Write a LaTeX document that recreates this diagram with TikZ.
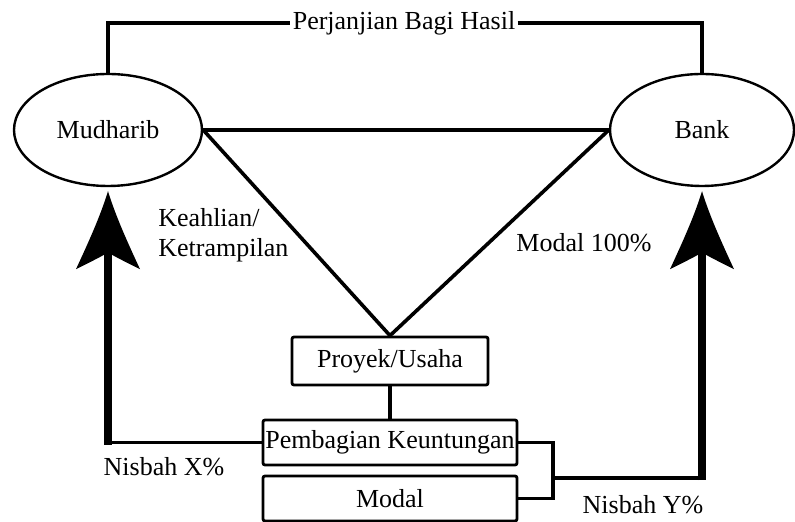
\documentclass[tikz,border=0pt]{standalone}
\usepackage{fontspec}
\setmainfont{Liberation Serif}
\usepackage{tikz}
\usetikzlibrary{arrows.meta,positioning,calc,shapes.geometric}
% spear-like tip with hollowed sides
\pgfdeclarearrow{
  name=Spear,
  setup code={
    \pgfarrowssettipend{0pt}
    \pgfarrowssetlineend{-30pt}
    \pgfarrowssetvisualbackend{-39pt}
    \pgfarrowssetbackend{-39pt}
    \pgfarrowshullpoint{0pt}{0pt}
    \pgfarrowshullpoint{-39pt}{16pt}
    \pgfarrowshullpoint{-39pt}{-16pt}
  },
  drawing code={
    \pgfpathmoveto{\pgfqpoint{0pt}{0pt}}
    \pgfpathcurveto{\pgfqpoint{-13pt}{4pt}}{\pgfqpoint{-26pt}{10pt}}{\pgfqpoint{-39pt}{16pt}}
    \pgfpathcurveto{\pgfqpoint{-36pt}{10pt}}{\pgfqpoint{-33pt}{4pt}}{\pgfqpoint{-31.5pt}{1.5pt}}
    \pgfpathlineto{\pgfqpoint{-31.5pt}{-1.5pt}}
    \pgfpathcurveto{\pgfqpoint{-33pt}{-4pt}}{\pgfqpoint{-36pt}{-10pt}}{\pgfqpoint{-39pt}{-16pt}}
    \pgfpathcurveto{\pgfqpoint{-26pt}{-10pt}}{\pgfqpoint{-13pt}{-4pt}}{\pgfqpoint{0pt}{0pt}}
    \pgfpathclose
    \pgfusepathqfill
  }
}
\tikzset{
  party/.style={draw,ellipse,line width=1.2pt,minimum width=94pt,minimum height=56pt,
                inner sep=0pt},
  box/.style={draw,rectangle,rounded corners=1pt,line width=1.4pt,inner sep=1pt},
  lbl/.style={inner sep=0pt},
  link/.style={-,line width=1.8pt},
  share/.style={-Spear,line width=4pt},
}
\begin{document}
\begin{tikzpicture}[x=0.5pt,y=-0.5pt,font=\fontsize{13}{15}\selectfont]
  \useasboundingbox (0,0) rectangle (795,522);
  \node[party] (mud)  at (108,130) {Mudharib};
  \node[party,minimum width=92pt] (bank) at (702,130) {Bank};
  \node[box,minimum width=98pt,minimum height=24pt]   (proy)  at (390,361)   {Proyek/Usaha};
  \node[box,minimum width=127pt,minimum height=22.5pt] (pemb) at (390,442.5) {Pembagian Keuntungan};
  \node[box,minimum width=127pt,minimum height=22.5pt] (modal) at (390,498.5) {Modal};

  \node[lbl,fill=white,inner xsep=1pt] (perj) at (404,23) {Perjanjian Bagi Hasil};
  \node[lbl,anchor=west,align=left] (ahli) at (158,235) {Keahlian/\\Ketrampilan};
  \node[lbl] (mod100) at (584,243) {Modal 100\%};
  \node[lbl] (nisx) at (164,467) {Nisbah X\%};
  \node[lbl] (nisy) at (643,505) {Nisbah Y\%};

  \draw[link] (mud.north) |- (perj.west);
  \draw[link] (perj.east) -| (bank.north);
  \draw[link] (mud.east) -- (bank.west);
  \draw[link] (mud.east) -- (proy.north);
  \draw[link] (bank.west) -- (proy.north);
  \draw[link] (proy.south) -- (pemb.north);

  % profit shares back to the parties
  \coordinate (brk) at (553,478);
  \coordinate (lcorner) at (mud.south |- pemb.west);
  \coordinate (rcorner) at (bank.south |- brk);
  \draw[link] (pemb.west) -- (lcorner);
  \draw[share] ([yshift=-1pt]lcorner) -- ([yshift=-2pt]mud.south);
  \draw[link] (pemb.east) -| (brk) |- (modal.east);
  \draw[link] (brk) -- (rcorner);
  \draw[share] ([yshift=-1pt]rcorner) -- ([yshift=-2pt]bank.south);
\end{tikzpicture}
\end{document}
